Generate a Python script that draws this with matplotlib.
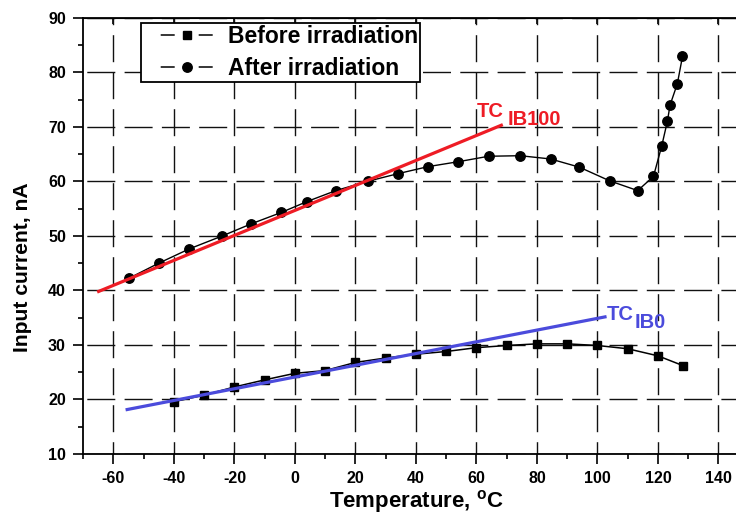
import matplotlib
matplotlib.use('Agg')
import matplotlib.pyplot as plt
from matplotlib.lines import Line2D
from matplotlib.ticker import MultipleLocator

# ---------------- data ----------------
before_T = [-40, -30, -20, -10, 0, 10, 20, 30, 40, 50, 60, 70, 80, 90, 100, 110, 120, 128.3]
before_I = [19.6, 20.8, 22.3, 23.6, 24.8, 25.3, 26.8, 27.6, 28.3, 28.8, 29.5, 29.9, 30.2, 30.2, 29.9, 29.3, 28.0, 26.2]

after_T = [-55, -45, -35, -24, -14.5, -4.5, 4, 13.5, 24, 34, 44, 54, 64, 74.5, 84.5,
           94, 104, 113.3, 118.5, 121.2, 123.1, 124.0, 126.4, 128.1]
after_I = [42.2, 45.0, 47.6, 50.0, 52.2, 54.3, 56.3, 58.3, 60.0, 61.4, 62.7, 63.6, 64.6, 64.7, 64.1,
           62.6, 60.1, 58.3, 60.9, 66.4, 71.0, 74.0, 77.9, 82.9]

tc100_T = [-65.4, 68.7]
tc100_I = [39.7, 70.4]
tc0_T = [-56, 103]
tc0_I = [18.1, 35.2]

x_ticks = [-60, -40, -20, 0, 20, 40, 60, 80, 100, 120, 140]
y_ticks = [10, 20, 30, 40, 50, 60, 70, 80, 90]
legend_labels = ['Before irradiation', 'After irradiation']

# ---------------- style ----------------
plt.rcParams['font.family'] = ['Liberation Sans', 'DejaVu Sans']
plt.rcParams['font.weight'] = 'bold'
plt.rcParams['axes.unicode_minus'] = False
plt.rcParams['lines.scale_dashes'] = False
plt.rcParams['mathtext.fontset'] = 'custom'
plt.rcParams['mathtext.rm'] = 'Liberation Sans:bold'
plt.rcParams['mathtext.bf'] = 'Liberation Sans:bold'

RED = '#ee1c25'
BLUE = '#4b4bdc'
PX = 0.72  # points per pixel at dpi 100

fig = plt.figure(figsize=(7.36, 5.14), dpi=100)
ax = fig.add_axes([0.1131, 0.1167, 0.9042, 0.8488])
ax.set_xlim(-70, 150)
ax.set_ylim(10, 90)

# grid
ax.set_axisbelow(True)
ax.yaxis.grid(True, color='#111111', linewidth=1.0,
              linestyle=(33.5 * PX, (28 * PX, 9.3 * PX)))
ax.xaxis.grid(True, color='#111111', linewidth=1.0,
              linestyle=(14.7 * PX, (27 * PX, 10 * PX)))

# data
ax.plot(before_T, before_I, color='black', lw=1.1, marker='s', markersize=6.2, zorder=3)
ax.plot(after_T, after_I, color='black', lw=1.0, marker='o', markersize=6.8, zorder=3)
ax.plot(tc100_T, tc100_I, color=RED, lw=2.3, zorder=4, solid_capstyle='butt')
ax.plot(tc0_T, tc0_I, color=BLUE, lw=2.3, zorder=4, solid_capstyle='butt')

# labels on fitting lines
ax.text(60.2, 71.8, 'TC', color=RED, fontsize=14.5, fontweight='bold', ha='left', va='baseline')
ax.text(70.4, 70.4, 'IB100', color=RED, fontsize=14.5, fontweight='bold', ha='left', va='baseline')
ax.text(103.1, 34.6, 'TC', color=BLUE, fontsize=14.5, fontweight='bold', ha='left', va='baseline')
ax.text(112.4, 33.1, 'IB0', color=BLUE, fontsize=14.5, fontweight='bold', ha='left', va='baseline')

# ticks
ax.set_xticks(x_ticks)
ax.set_yticks(y_ticks)
ax.xaxis.set_minor_locator(MultipleLocator(10))
ax.yaxis.set_minor_locator(MultipleLocator(5))
ax.tick_params(which='major', direction='out', length=7, width=1.2, labelsize=11.5, pad=5.5)
ax.tick_params(which='minor', direction='out', length=3.5, width=1.2)
for lab in ax.get_xticklabels() + ax.get_yticklabels():
    lab.set_fontweight('bold')

for s in ['left', 'bottom', 'top', 'right']:
    ax.spines[s].set_linewidth(1.3)

top = ax.secondary_xaxis('top')
top.set_xticks(x_ticks)
top.tick_params(direction='in', length=4, width=1.2, labeltop=False)

ax.set_xlabel('Temperature, $^{\\mathrm{o}}$C', fontsize=16, fontweight='bold', labelpad=1)
ax.set_ylabel('Input current, nA', fontsize=15.2, fontweight='bold')
ax.yaxis.set_label_coords(-0.077, 0.4286)

# legend
fs_leg = 16.5
em_px = fs_leg / PX
blank = 17.7
ls_leg = ((52 + blank) * PX, (14 * PX, 24 * PX, 14 * PX, 2 * blank * PX))
handles = [Line2D([], [], color='black', lw=1.1, marker='s', markersize=6.2, linestyle=ls_leg),
           Line2D([], [], color='black', lw=1.1, marker='o', markersize=6.8, linestyle=ls_leg)]
leg = ax.legend(handles, legend_labels, loc='upper left', bbox_to_anchor=(0.0868, 0.988),
                borderaxespad=0, borderpad=0.1, handlelength=(52 + 2 * blank) / em_px,
                handletextpad=-0.12, labelspacing=0.39, fancybox=False, framealpha=1,
                edgecolor='black',
                prop={'family': 'Liberation Sans', 'weight': 'bold', 'size': fs_leg})
leg.get_frame().set_linewidth(1.3)

fig.savefig('out.png', dpi=100)
